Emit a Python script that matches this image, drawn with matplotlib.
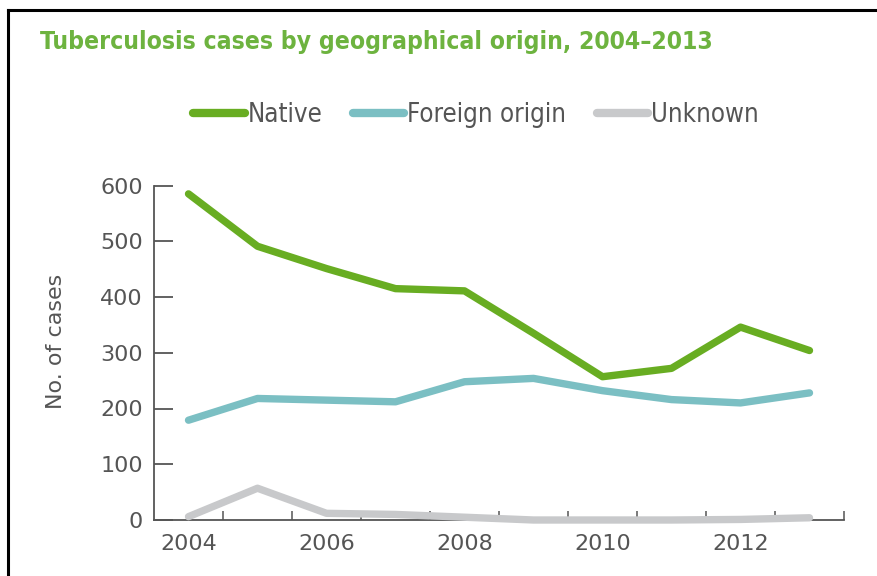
import matplotlib
matplotlib.use("Agg")
import matplotlib.pyplot as plt
from matplotlib.lines import Line2D
import numpy as np

years = [2004, 2005, 2006, 2007, 2008, 2009, 2010, 2011, 2012, 2013]
native = [585, 491, 451, 415, 411, 335, 257, 272, 346, 304]
foreign = [179, 218, 215, 212, 248, 254, 232, 216, 210, 228]
unknown = [6, 57, 12, 10, 5, 0, 0, 0, 1, 4]
year_labels = ["2004", "2006", "2008", "2010", "2012"]

GREEN = "#68ad22"
TEAL = "#7bbfc3"
GREY = "#c8c9cb"
TEXT = "#555555"

fig = plt.figure(figsize=(8.77, 5.76), dpi=100)
ax = fig.add_axes([154 / 877, 1 - 520 / 576, 690 / 877, 334.5 / 576])

x = np.arange(len(years))
series = [("Native", native, GREEN), ("Foreign origin", foreign, TEAL),
          ("Unknown", unknown, GREY)]
for label, vals, color in series:
    ax.plot(x, vals, color=color, lw=5.3, solid_capstyle="round",
            solid_joinstyle="round", clip_on=False, zorder=3, label=label)

ax.set_xlim(-0.5, len(years) - 0.5)
ax.set_ylim(0, 600)
ax.set_yticks(range(0, 601, 100))
ax.set_xticks(x[::2])
ax.set_xticklabels(year_labels)
ax.set_xticks(np.arange(0.5, len(years), 1.0), minor=True)

for side in ("top", "right"):
    ax.spines[side].set_visible(False)
for side in ("left", "bottom"):
    ax.spines[side].set_color(TEXT)
    ax.spines[side].set_linewidth(1.3)

ax.tick_params(axis="y", direction="in", length=13.5, width=1.3, color=TEXT,
               pad=8, labelsize=16, labelcolor=TEXT)
ax.tick_params(axis="x", which="major", length=0, pad=10, labelsize=16,
               labelcolor=TEXT)
ax.tick_params(axis="x", which="minor", direction="in", length=6.5, width=1.1,
               color=TEXT)
ax.set_ylabel("No. of cases", fontsize=16, color=TEXT)
ax.yaxis.set_label_coords(-0.127, 0.535)

fig.text(40 / 877, 1 - 42 / 576, "Tuberculosis cases by geographical origin, 2004\u20132013",
         color="#6db33f", fontsize=17.7, fontweight="bold", fontstretch="condensed",
         va="center", ha="left")

handles = [Line2D([], [], color=c, lw=6, solid_capstyle="round") for _, _, c in series]
fig.legend(handles, [s[0] for s in series], loc="center",
           bbox_to_anchor=(476 / 877, 1 - 115 / 576), ncol=3, frameon=False,
           handlelength=2.0, handletextpad=0.1, columnspacing=1.2,
           prop={"size": 18.5, "stretch": "condensed"}, labelcolor=TEXT)

# frame edges of the cropped source box
fig.add_artist(Line2D([8 / 877, 8 / 877], [0, 1 - 9.5 / 576], color="black", lw=2.2,
                      transform=fig.transFigure))
fig.add_artist(Line2D([8 / 877, 1], [1 - 9.5 / 576, 1 - 9.5 / 576], color="black", lw=2.2,
                      transform=fig.transFigure))

fig.savefig("out.png", dpi=100)
